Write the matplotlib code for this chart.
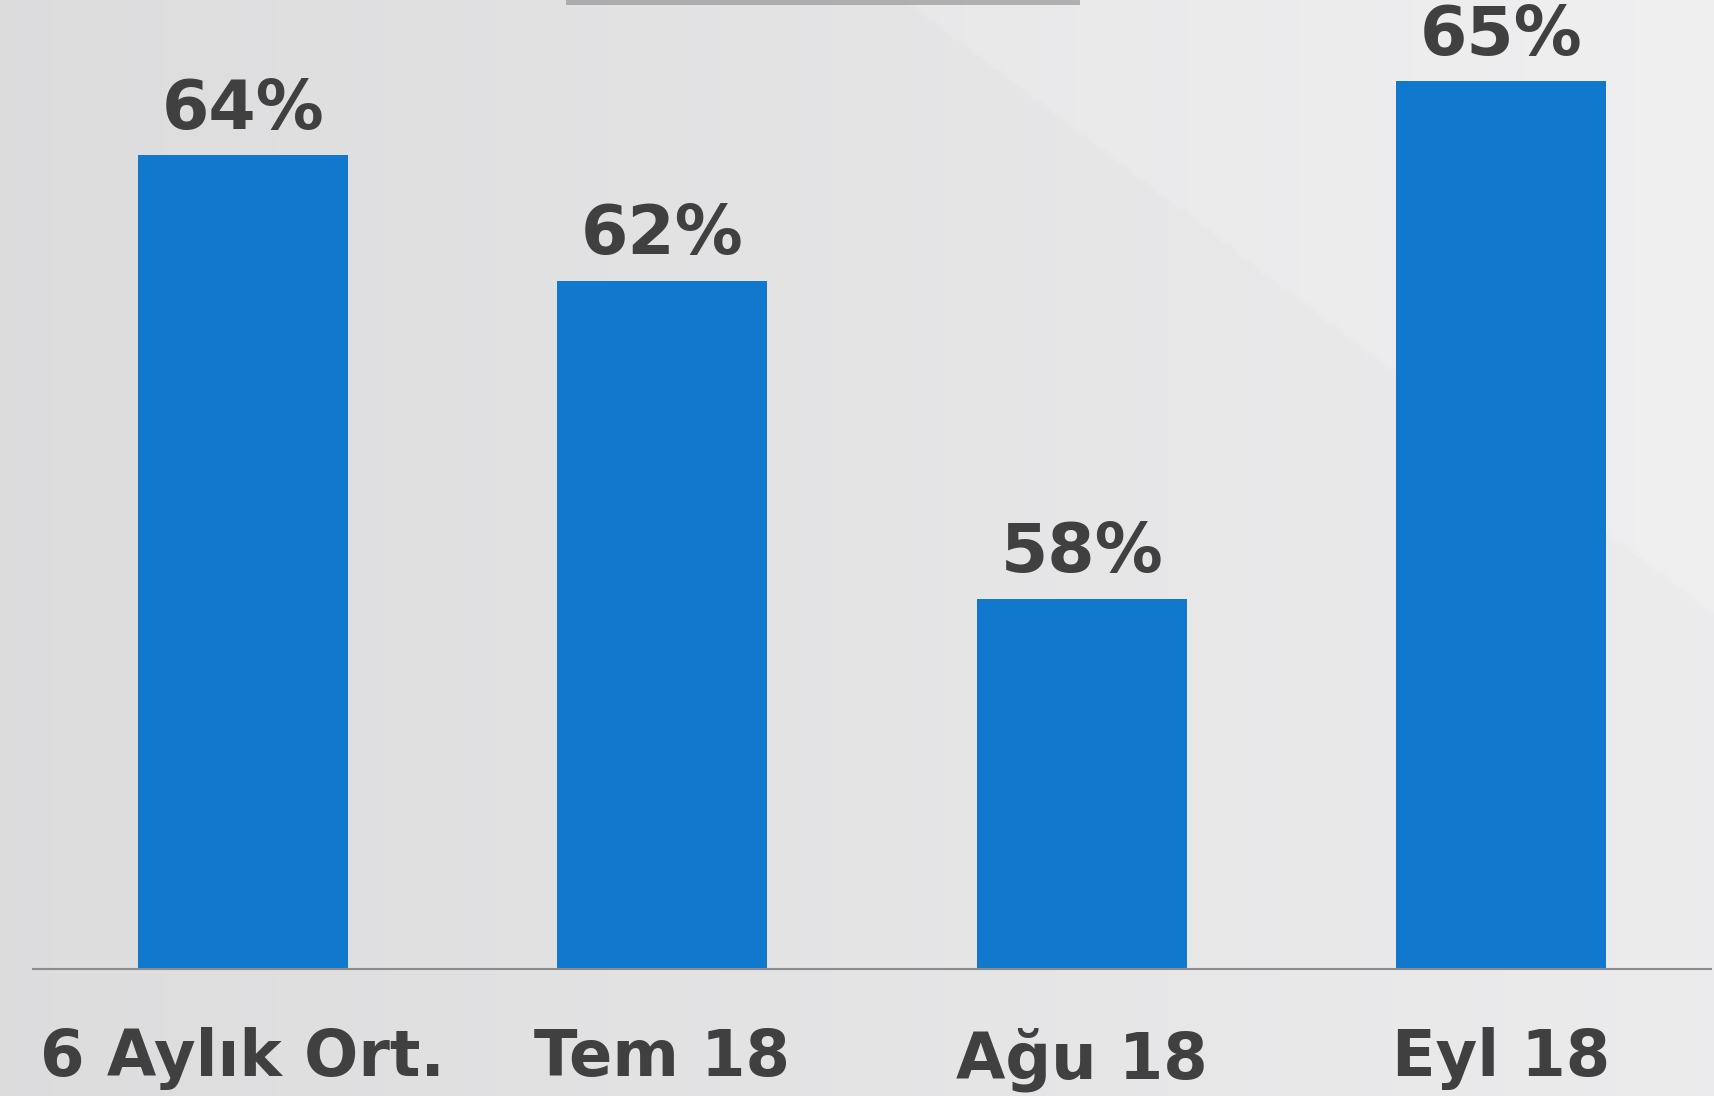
import numpy as np
import matplotlib.pyplot as plt

# chart data
categories = ['6 Aylık Ort.', 'Tem 18', 'Ağu 18', 'Eyl 18']
values = [64, 62.3, 58, 65]
value_labels = ['64%', '62%', '58%', '65%']

fig = plt.figure(figsize=(17.15, 10.96), dpi=100)

# background: soft grey gradient with a lighter diagonal region on the right
bg = fig.add_axes([0, 0, 1, 1])
bg.set_axis_off()
h, w = 220, 344
yy, xx = np.mgrid[0:h, 0:w]
xn = xx / (w - 1)
yn = yy / (h - 1)
shade = 0.865 + 0.06 * xn
light = (xn - 0.53 - 0.84 * yn) > 0
shade = np.where(light, shade + 0.015, shade)
shade = np.clip(shade, 0, 1)
bg.imshow(np.dstack([shade, shade, shade + 0.005]).clip(0, 1), aspect='auto', extent=[0, 1, 0, 1],
          interpolation='bilinear')
# faint shadow of a box peeking in at the top
bg.fill_between([0.33, 0.63], 0.995, 1.0, color='#8a8a8a', alpha=0.6, lw=0)
bg.set_xlim(0, 1)
bg.set_ylim(0, 1)

ax = fig.add_axes([0.0192, 0.116, 0.9785, 0.81])
ax.patch.set_alpha(0)
x = np.arange(len(categories))
ax.bar(x, values, width=0.5, color='#1179cd', bottom=0)
ax.set_ylim(53, 65)
ax.set_xlim(-0.5, 3.5)

for xi, v, lab in zip(x, values, value_labels):
    ax.annotate(lab, (xi, v), xytext=(0, 9), textcoords='offset points',
                ha='center', va='bottom', fontsize=49, fontweight='bold', color='#404040')

ax.set_xticks(x)
ax.set_xticklabels(categories, fontsize=46, fontweight='bold', color='#404040')
ax.tick_params(axis='x', length=0, pad=42)
ax.set_yticks([])
for s in ['top', 'left', 'right']:
    ax.spines[s].set_visible(False)
ax.spines['bottom'].set_color('#8c8c8c')
ax.spines['bottom'].set_linewidth(1.5)

fig.savefig('out.png', dpi=100)
